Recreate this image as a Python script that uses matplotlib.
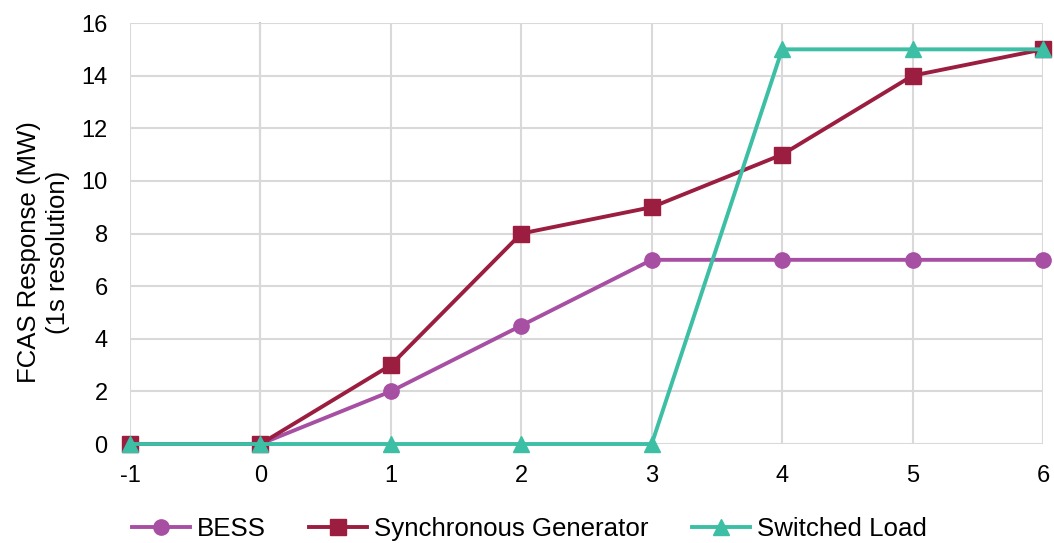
import matplotlib
matplotlib.use("Agg")
import matplotlib.pyplot as plt

plt.rcParams['font.family'] = ['Liberation Sans', 'DejaVu Sans']
plt.rcParams['axes.unicode_minus'] = False

x = [-1, 0, 1, 2, 3, 4, 5, 6]
bess = [0, 0, 2, 4.5, 7, 7, 7, 7]
sync_gen = [0, 0, 3, 8, 9, 11, 14, 15]
switched = [0, 0, 0, 0, 0, 15, 15, 15]
labels = ["BESS", "Synchronous Generator", "Switched Load"]
colors = ["#a64fa3", "#9b1d40", "#3cbfa4"]

fig = plt.figure(figsize=(10.54, 5.43), dpi=100)
ax = fig.add_axes([0.1233, 0.1823, 0.8663, 0.7753])

ax.plot(x, bess, color=colors[0], lw=2.8, marker='o', ms=11, label=labels[0], zorder=3)
ax.plot(x, sync_gen, color=colors[1], lw=2.8, marker='s', ms=11, label=labels[1], zorder=4)
ax.plot(x, switched, color=colors[2], lw=2.8, marker='^', ms=12, label=labels[2], zorder=5)

ax.set_xlim(-1, 6)
ax.set_ylim(0, 16)
ax.set_xticks(x)
ax.set_yticks(range(0, 17, 2))
ax.grid(True, color='#d9d9d9', lw=1.5, zorder=0)
ax.axvline(0, color='#c8c8c8', lw=1.5, zorder=1)
for s in ax.spines.values():
    s.set_visible(False)
ax.tick_params(length=0, labelsize=17)
ax.tick_params(axis='x', pad=15)
ax.tick_params(axis='y', pad=16)
ax.set_ylabel("FCAS Response (MW)\n(1s resolution)", fontsize=18.5, linespacing=1.25)
ax.yaxis.set_label_coords(-0.066, 0.456)
for line in ax.get_lines():
    line.set_clip_on(False)

fig.legend(loc='center', bbox_to_anchor=(529 / 1054, 0.025), ncol=3, frameon=False,
           fontsize=18.6, handlelength=2.25, columnspacing=1.67, handletextpad=0.27,
           borderpad=0, borderaxespad=0)

fig.savefig("out.png", dpi=100)
